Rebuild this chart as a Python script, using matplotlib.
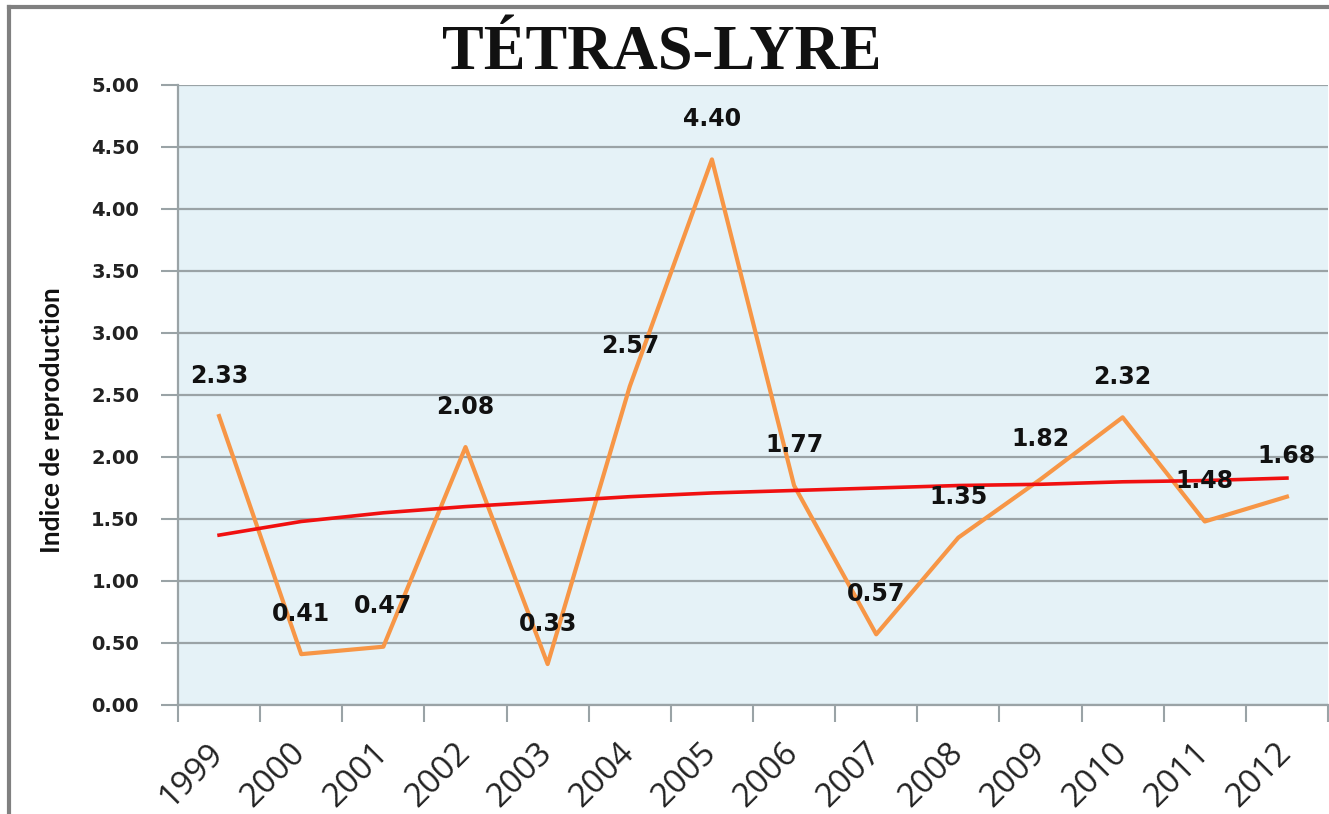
import matplotlib.pyplot as plt
from matplotlib.transforms import ScaledTranslation

YEARS = ["1999", "2000", "2001", "2002", "2003", "2004", "2005",
         "2006", "2007", "2008", "2009", "2010", "2011", "2012"]
INDICE = [2.33, 0.41, 0.47, 2.08, 0.33, 2.57, 4.40,
          1.77, 0.57, 1.35, 1.82, 2.32, 1.48, 1.68]
# tendance (courbe rouge)
TENDANCE = [1.37, 1.48, 1.55, 1.60, 1.64, 1.68, 1.71,
            1.73, 1.75, 1.77, 1.78, 1.80, 1.81, 1.83]
Y_TICKS = [0.0, 0.5, 1.0, 1.5, 2.0, 2.5, 3.0, 3.5, 4.0, 4.5, 5.0]

ORANGE = "#F79646"
RED = "#F01010"
BG = "#E5F2F7"
GRID = "#9AA3A6"

fig = plt.figure(figsize=(13.29, 8.14), dpi=100)
W, H = 1329, 814
ax = fig.add_axes([178 / W, 1 - 705 / H, (1328 - 178) / W, (705 - 85) / H])
ax.set_facecolor(BG)

# cadre extérieur (haut et gauche visibles)
fig.add_artist(plt.Line2D([9 / W, 9 / W], [0, 1 - 7 / H], color="#808080", lw=3,
                          transform=fig.transFigure))
fig.add_artist(plt.Line2D([9 / W, 1], [1 - 7 / H, 1 - 7 / H], color="#808080", lw=3,
                          transform=fig.transFigure))

x = range(len(YEARS))
ax.plot(x, INDICE, color=ORANGE, lw=3, zorder=3)
ax.plot(x, TENDANCE, color=RED, lw=2.6, zorder=4)

for i, v in enumerate(INDICE):
    ax.annotate(f"{v:.2f}", (i, v), xytext=(0, 29), textcoords="offset points",
                ha="center", va="center", fontsize=17, fontweight="bold",
                family="DejaVu Sans", color="#111111", zorder=5)

ax.set_xlim(-0.5, len(YEARS) - 0.5)
ax.set_ylim(0, 5)
ax.set_yticks(Y_TICKS)
ax.set_yticklabels([f"{t:.2f}" for t in Y_TICKS], fontsize=14, fontweight="bold",
                   family="DejaVu Sans", color="#222222")
ax.grid(axis="y", color=GRID, lw=1.6)
ax.set_axisbelow(True)

ax.set_xticks([i - 0.5 for i in range(len(YEARS) + 1)])
ax.set_xticklabels([""] * (len(YEARS) + 1))
ax.set_xticks(list(x), minor=True)
ax.set_xticklabels(YEARS, minor=True, rotation=45, ha="right", va="top",
                   rotation_mode="anchor", fontsize=24, family="Open Sans",
                   color="#222222")
ax.tick_params(axis="x", which="minor", length=0, pad=12)
ax.tick_params(axis="x", which="major", length=12, width=1.5, color=GRID)
ax.tick_params(axis="y", length=12, width=1.5, color=GRID, pad=16)

shift = ScaledTranslation(-0.12, -0.15, fig.dpi_scale_trans)
for lab in ax.get_xticklabels(minor=True):
    lab.set_transform(lab.get_transform() + shift)

for s in ["top", "right"]:
    ax.spines[s].set_visible(False)
for s in ["left", "bottom"]:
    ax.spines[s].set_color(GRID)
    ax.spines[s].set_linewidth(1.6)

fig.text(52 / W, 1 - 420 / H, "Indice de reproduction", rotation=90, ha="center",
         va="center", fontsize=19, fontweight="bold", family="Lato", color="#111111")

fig.text(662 / W, 1 - 55 / H, "TÉTRAS-LYRE", ha="center", va="center",
         fontsize=45, fontweight="bold", family="Liberation Serif", color="#111111")

fig.savefig("out.png", dpi=100)
